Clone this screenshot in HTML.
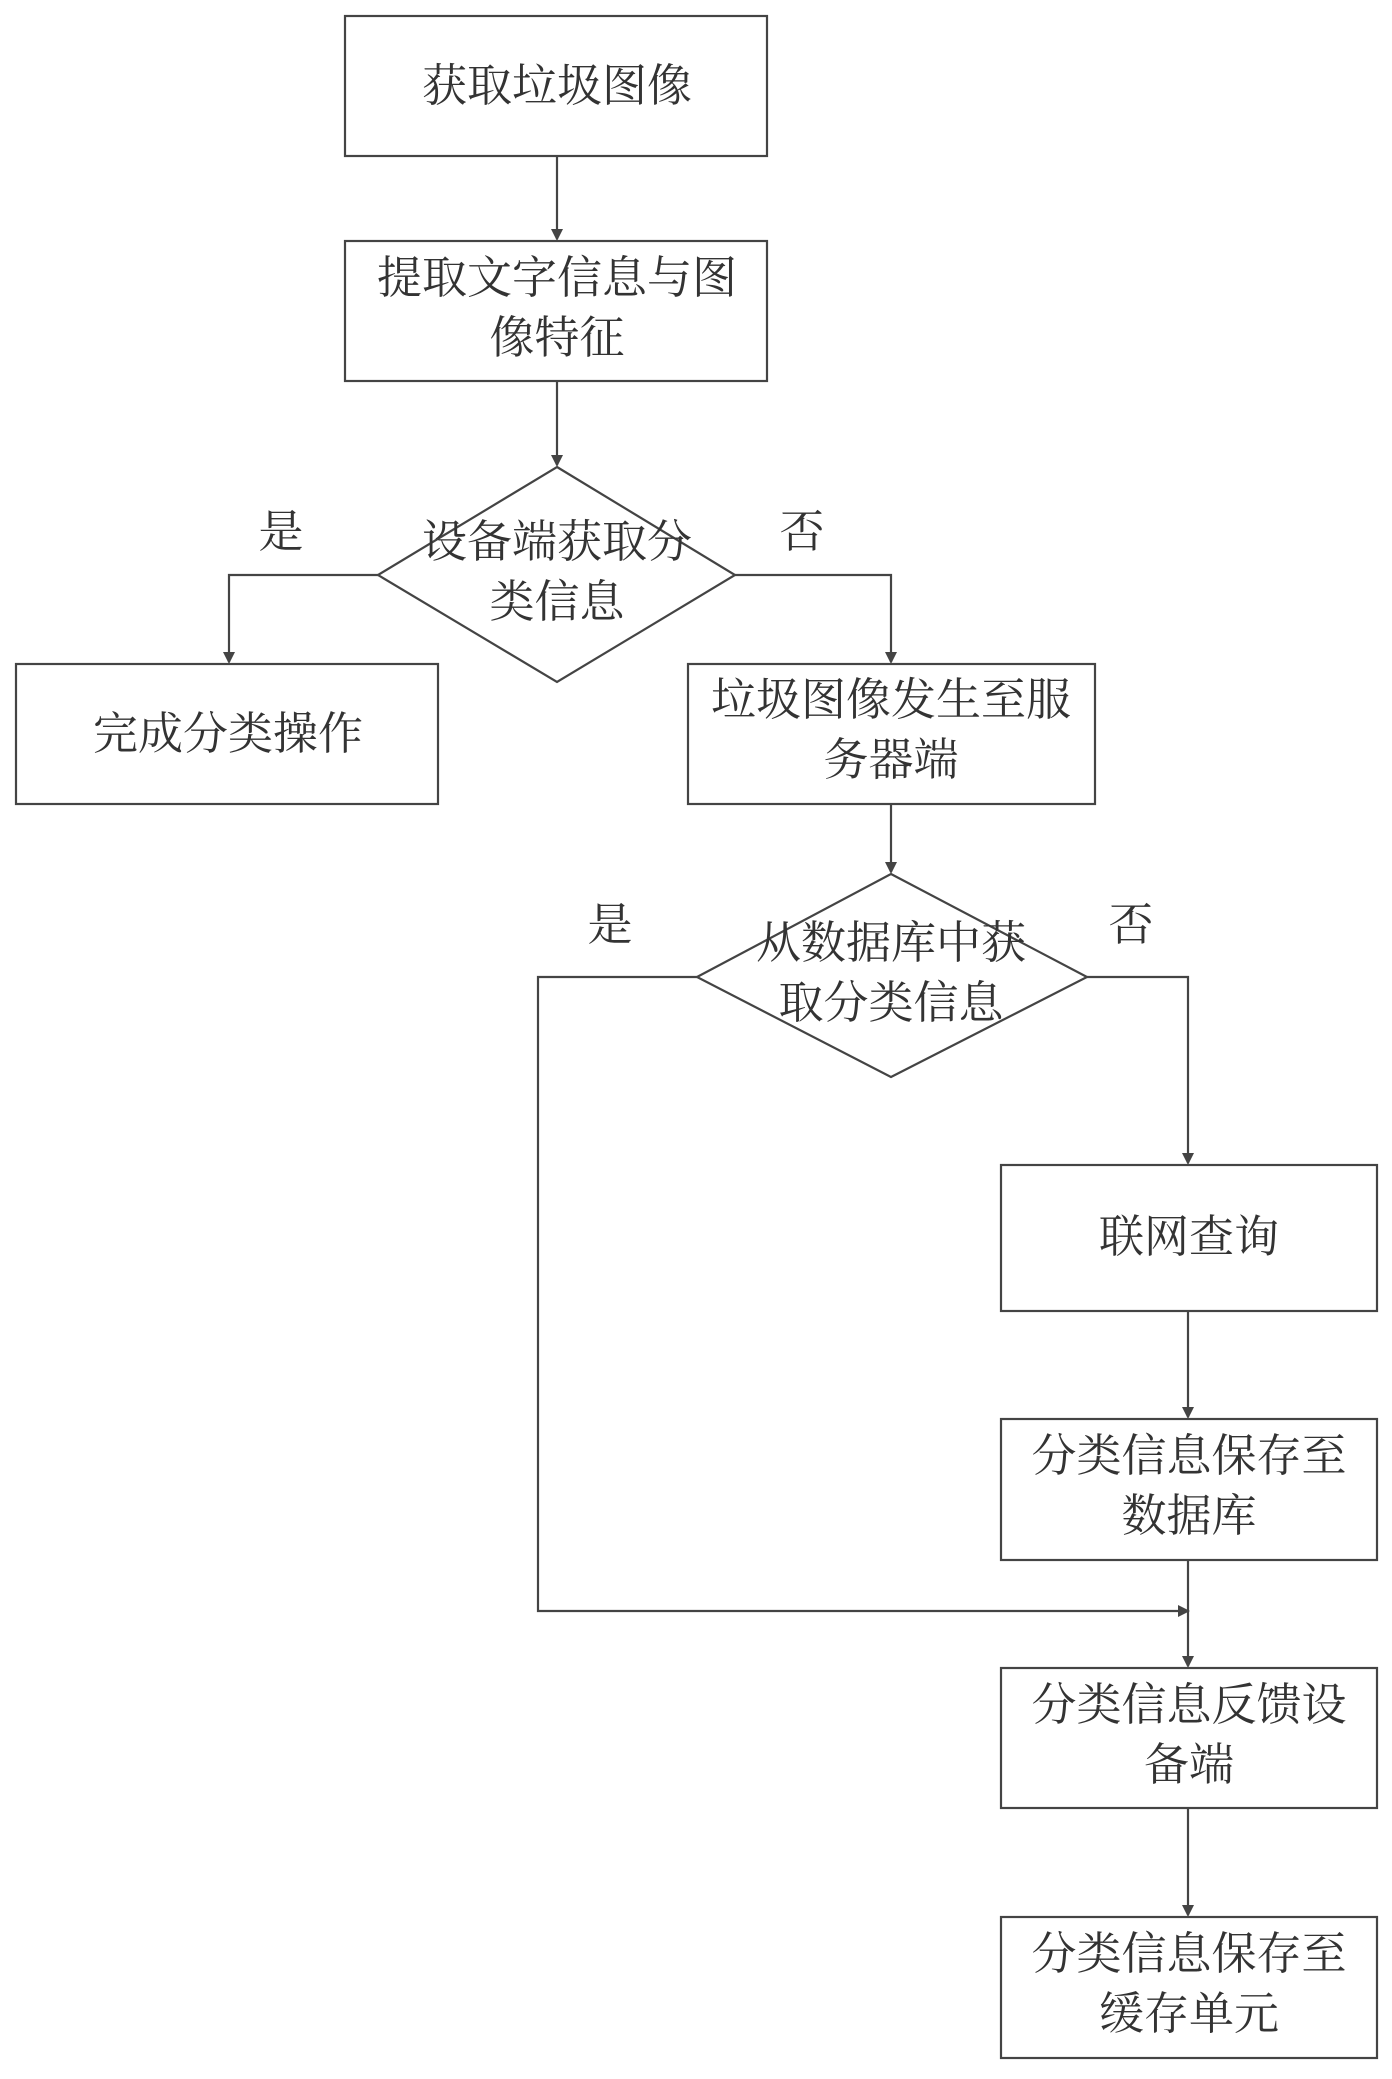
<!DOCTYPE html>
<html><head><meta charset="utf-8"><style>
html,body{margin:0;padding:0;background:#fff;}
svg text{font-family:"Liberation Serif","Noto Serif CJK SC",serif;font-size:45px;fill:#333;text-anchor:middle;}
</style></head><body>
<svg width="1392" height="2074" viewBox="0 0 1392 2074" xmlns="http://www.w3.org/2000/svg">
<defs><marker id="a" markerWidth="12" markerHeight="12" refX="10" refY="6" orient="auto" markerUnits="userSpaceOnUse"><path d="M0,0 L12,6 L0,12 Z" fill="#444"/></marker></defs>
<g fill="none" stroke="#444" stroke-width="2.2">
<rect x="345" y="16" width="422" height="140"/>
<rect x="345" y="241" width="422" height="140"/>
<polygon points="557,467 735,575 557,682 378,575"/>
<rect x="16" y="664" width="422" height="140"/>
<rect x="688" y="664" width="407" height="140"/>
<polygon points="891,874 1087,977 891,1077 697,977"/>
<rect x="1001" y="1165" width="376" height="146"/>
<rect x="1001" y="1419" width="376" height="141"/>
<rect x="1001" y="1668" width="376" height="140"/>
<rect x="1001" y="1917" width="376" height="141"/>
<path d="M557,156 V239" marker-end="url(#a)"/>
<path d="M557,381 V465" marker-end="url(#a)"/>
<path d="M378,575 H229 V662" marker-end="url(#a)"/>
<path d="M735,575 H891 V662" marker-end="url(#a)"/>
<path d="M891,804 V872" marker-end="url(#a)"/>
<path d="M697,977 H538 V1611 H1188" marker-end="url(#a)"/>
<path d="M1087,977 H1188 V1163" marker-end="url(#a)"/>
<path d="M1188,1311 V1417" marker-end="url(#a)"/>
<path d="M1188,1560 V1666" marker-end="url(#a)"/>
<path d="M1188,1808 V1915" marker-end="url(#a)"/>
</g>
<text x="557" y="101">获取垃圾图像</text>
<text x="557" y="293">提取文字信息与图</text>
<text x="557" y="353">像特征</text>
<text x="557" y="557">设备端获取分</text>
<text x="557" y="617">类信息</text>
<text x="281" y="547">是</text>
<text x="802" y="547">否</text>
<text x="228" y="749">完成分类操作</text>
<text x="891" y="715">垃圾图像发生至服</text>
<text x="891" y="775">务器端</text>
<text x="891" y="958">从数据库中获</text>
<text x="891" y="1018">取分类信息</text>
<text x="610" y="940">是</text>
<text x="1131" y="940">否</text>
<text x="1189" y="1252">联网查询</text>
<text x="1189" y="1471">分类信息保存至</text>
<text x="1189" y="1531">数据库</text>
<text x="1189" y="1720">分类信息反馈设</text>
<text x="1189" y="1780">备端</text>
<text x="1189" y="1969">分类信息保存至</text>
<text x="1189" y="2029">缓存单元</text>
</svg>
</body></html>
